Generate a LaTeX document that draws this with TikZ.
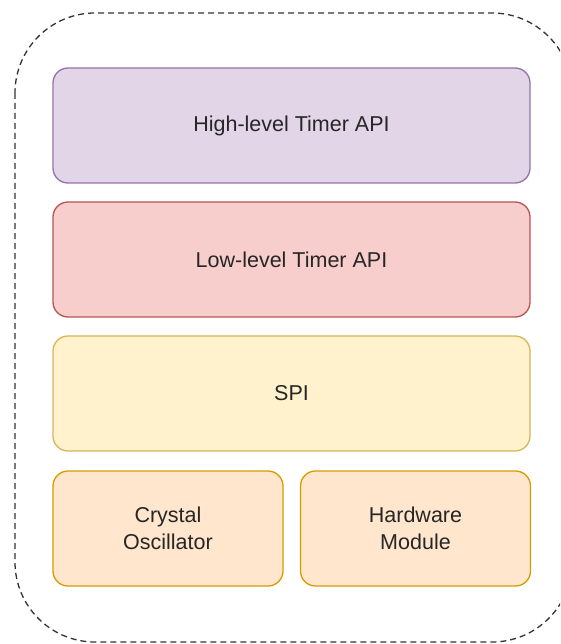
\documentclass[tikz,border=0pt]{standalone}
\usepackage{fontspec}
\setmainfont{Liberation Sans}
\definecolor{hlfill}{HTML}{E1D5E7}
\definecolor{hldraw}{HTML}{9673A6}
\definecolor{llfill}{HTML}{F8CECC}
\definecolor{lldraw}{HTML}{B85450}
\definecolor{spifill}{HTML}{FFF2CC}
\definecolor{spidraw}{HTML}{D6B656}
\definecolor{hwfill}{HTML}{FFE6CC}
\definecolor{hwdraw}{HTML}{D79B00}
\usetikzlibrary{positioning}
\tikzset{
	layernode/.style={
			rectangle,
			rounded corners=15pt,
			line width=1.3pt,
			minimum width=477pt,
			minimum height=115pt,
			inner sep=0pt,
			align=center,
			text=black!85,
			font=\fontsize{21.5pt}{27pt}\selectfont
		},
	highnode/.style={
			layernode,
			draw=hldraw,
			fill=hlfill
		},
	lownode/.style={
			layernode,
			draw=lldraw,
			fill=llfill
		},
	spinode/.style={
			layernode,
			draw=spidraw,
			fill=spifill
		},
	hwnode/.style={
			layernode,
			draw=hwdraw,
			fill=hwfill,
			minimum width=230pt
		},
	outline/.style={
			draw=black!80,
			line width=1.3pt,
			dash pattern=on 6pt off 4pt,
			rounded corners=80pt
		}
}
\begin{document}
\begin{tikzpicture}[x=1pt, y=-1pt]
\useasboundingbox (0,0) rectangle (560,644);
\begin{scope}
\clip (0,0) rectangle (560,644);
\draw[outline] (15,13) rectangle (572,642);
\end{scope}

\node[highnode] (high) at (291.5,125.5) {High-level Timer API};
\node[lownode] (low) at (291.5,259.5) {Low-level Timer API};
\node[spinode] (spi) at (291.5,393.5) {SPI};
\node[hwnode] (crystal) at (168,528.5) {Crystal\\Oscillator};
\node[hwnode] (module) at (415.5,528.5) {Hardware\\Module};
\end{tikzpicture}
\end{document}
